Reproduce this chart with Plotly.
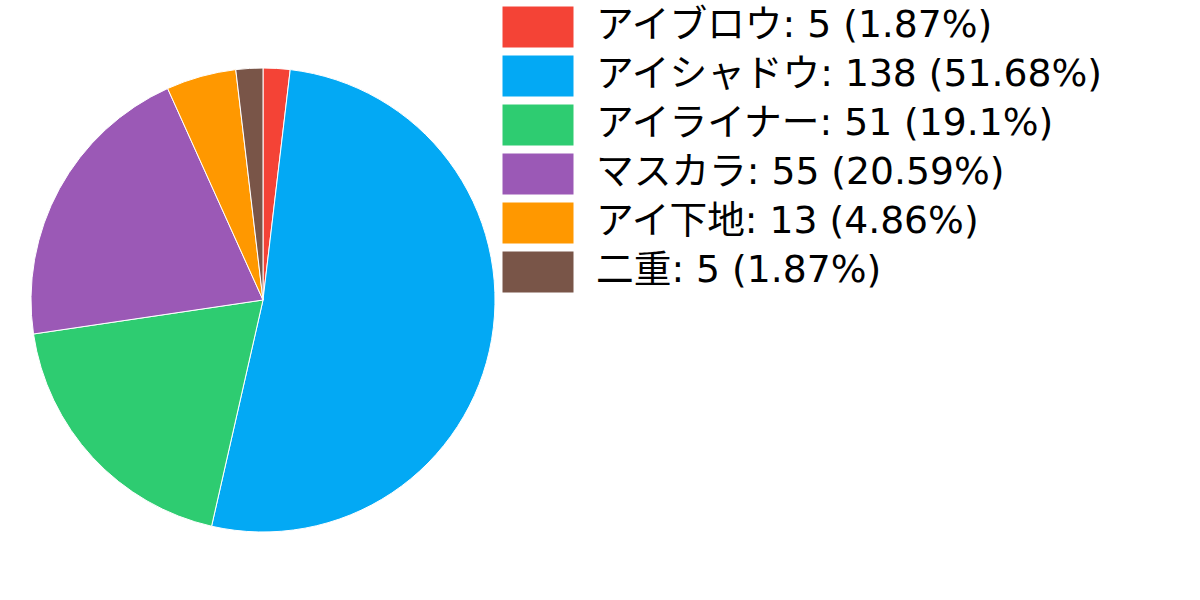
import plotly.graph_objects as go

labels = ["アイブロウ", "アイシャドウ", "アイライナー", "マスカラ", "アイ下地", "二重"]
values = [5, 138, 51, 55, 13, 5]
percents = ["1.87", "51.68", "19.1", "20.59", "4.86", "1.87"]
colors = ["#F44336", "#03A9F4", "#2ECC71", "#9B59B6", "#FF9800", "#795548"]

W, H = 1200, 600
FONT = "DejaVu Sans, Noto Sans CJK JP"
PITCH = 49  # legend row spacing in px
FSIZE = PITCH / 1.3  # plotly uses 1.3 line spacing


def px(x):
    return x / W


def py(y):
    return 1 - y / H


fig = go.Figure()

fig.add_trace(go.Pie(
    labels=labels,
    values=values,
    marker=dict(colors=colors, line=dict(color="white", width=1)),
    sort=False,
    direction="clockwise",
    rotation=0,
    textinfo="none",
    hoverinfo="label+value+percent",
    showlegend=False,
    domain=dict(x=[px(31), px(495)], y=[py(532), py(68)]),
))

# hand-made legend with wide swatches
shapes = []
lines = []
for i, (lab, val, pct, col) in enumerate(zip(labels, values, percents, colors)):
    yc = 27 + PITCH * i
    shapes.append(dict(
        type="rect", xref="paper", yref="paper",
        x0=px(502), x1=px(574),
        y0=py(yc + 21), y1=py(yc - 21),
        fillcolor=col, line=dict(color="white", width=1),
    ))
    lines.append(f"{lab}: {val} ({pct}%)")

fig.add_annotation(
    xref="paper", yref="paper", x=px(594), y=py(24 + PITCH * 2.5),
    xanchor="left", yanchor="middle", align="left", showarrow=False,
    text="<br>".join(lines),
    font=dict(family=FONT, size=FSIZE, color="black"),
)

fig.update_layout(
    width=W, height=H,
    margin=dict(l=0, r=0, t=0, b=0),
    paper_bgcolor="white",
    plot_bgcolor="white",
    font=dict(family=FONT),
    shapes=shapes,
)

fig.write_html("out.html", config={"displayModeBar": False},
               post_script="document.body.style.margin='0';")
